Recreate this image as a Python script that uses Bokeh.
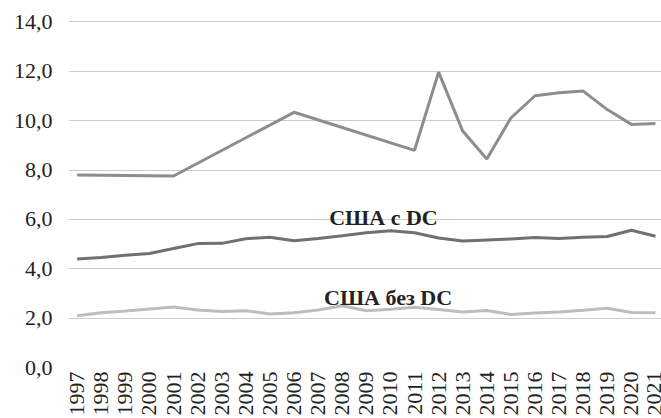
from bokeh.plotting import figure
from bokeh.models import FixedTicker, CustomJSTickFormatter, Range1d
from bokeh.core.properties import value
from bokeh.embed import file_html
from bokeh.resources import INLINE

years = list(range(1997, 2022))
year_labels = [str(y) for y in years]

# top series (DC), sparse years joined by straight segments
dc_years = [1997, 2001, 2006, 2011, 2012, 2013, 2014, 2015, 2016, 2017, 2018, 2019, 2020, 2021]
dc_vals = [7.80, 7.76, 10.34, 8.80, 11.97, 9.58, 8.45, 10.11, 11.01, 11.13, 11.20, 10.45, 9.85, 9.89]

us_with_dc = [4.40, 4.46, 4.55, 4.62, 4.82, 5.02, 5.03, 5.22, 5.28, 5.14, 5.23, 5.34, 5.46, 5.54,
              5.46, 5.25, 5.13, 5.17, 5.21, 5.27, 5.23, 5.28, 5.31, 5.56, 5.32]
us_without_dc = [2.10, 2.22, 2.29, 2.37, 2.45, 2.33, 2.27, 2.30, 2.17, 2.22, 2.33, 2.50, 2.30, 2.36,
                 2.44, 2.35, 2.25, 2.31, 2.15, 2.21, 2.25, 2.32, 2.40, 2.23, 2.22]

y_ticks = [0, 2, 4, 6, 8, 10, 12, 14]
label_with = "США с DC"
label_without = "США без DC"

FONT = "Liberation Serif"

p = figure(width=661, height=418, output_backend="svg", toolbar_location=None,
           x_range=Range1d(1996.64, 2021.25), y_range=Range1d(0.0, 14.87),
           min_border_left=68, min_border_right=0, min_border_top=0, min_border_bottom=48)
p.outline_line_color = None
p.background_fill_color = "white"
p.border_fill_color = "white"

p.line(dc_years, dc_vals, line_color="#8d8d8d", line_width=3)
p.line(years, us_with_dc, line_color="#707070", line_width=3)
p.line(years, us_without_dc, line_color="#bdbdbd", line_width=3)

p.text(x=[2009.71], y=[6.08], text=[label_with], text_align="center", text_baseline="alphabetic",
       text_font=value(FONT), text_font_style="bold", text_font_size="22px", text_color="#222222")
p.text(x=[2009.9], y=[2.83], text=[label_without], text_align="center", text_baseline="alphabetic",
       text_font=value(FONT), text_font_style="bold", text_font_size="22px", text_color="#222222")

p.xgrid.grid_line_color = None
p.ygrid.grid_line_color = "#cccccc"
p.ygrid.grid_line_width = 1
p.yaxis.ticker = FixedTicker(ticks=y_ticks)
p.xaxis.ticker = FixedTicker(ticks=years)
p.xaxis.major_label_overrides = {y: l for y, l in zip(years, year_labels)}
p.yaxis.formatter = CustomJSTickFormatter(code="return tick.toFixed(1).replace('.', ',');")

for ax in (p.xaxis, p.yaxis):
    ax.axis_line_color = None
    ax.major_tick_line_color = None
    ax.minor_tick_line_color = None
    ax.major_tick_out = 0
    ax.major_tick_in = 0
    ax.minor_tick_out = 0
    ax.major_label_text_font = FONT
    ax.major_label_text_font_size = "22px"
    ax.major_label_text_color = "#222222"

p.yaxis.major_label_standoff = 16
p.xaxis.major_label_standoff = 4
p.xaxis.major_label_orientation = 1.5708

open("out.html", "w").write(file_html(p, INLINE))
